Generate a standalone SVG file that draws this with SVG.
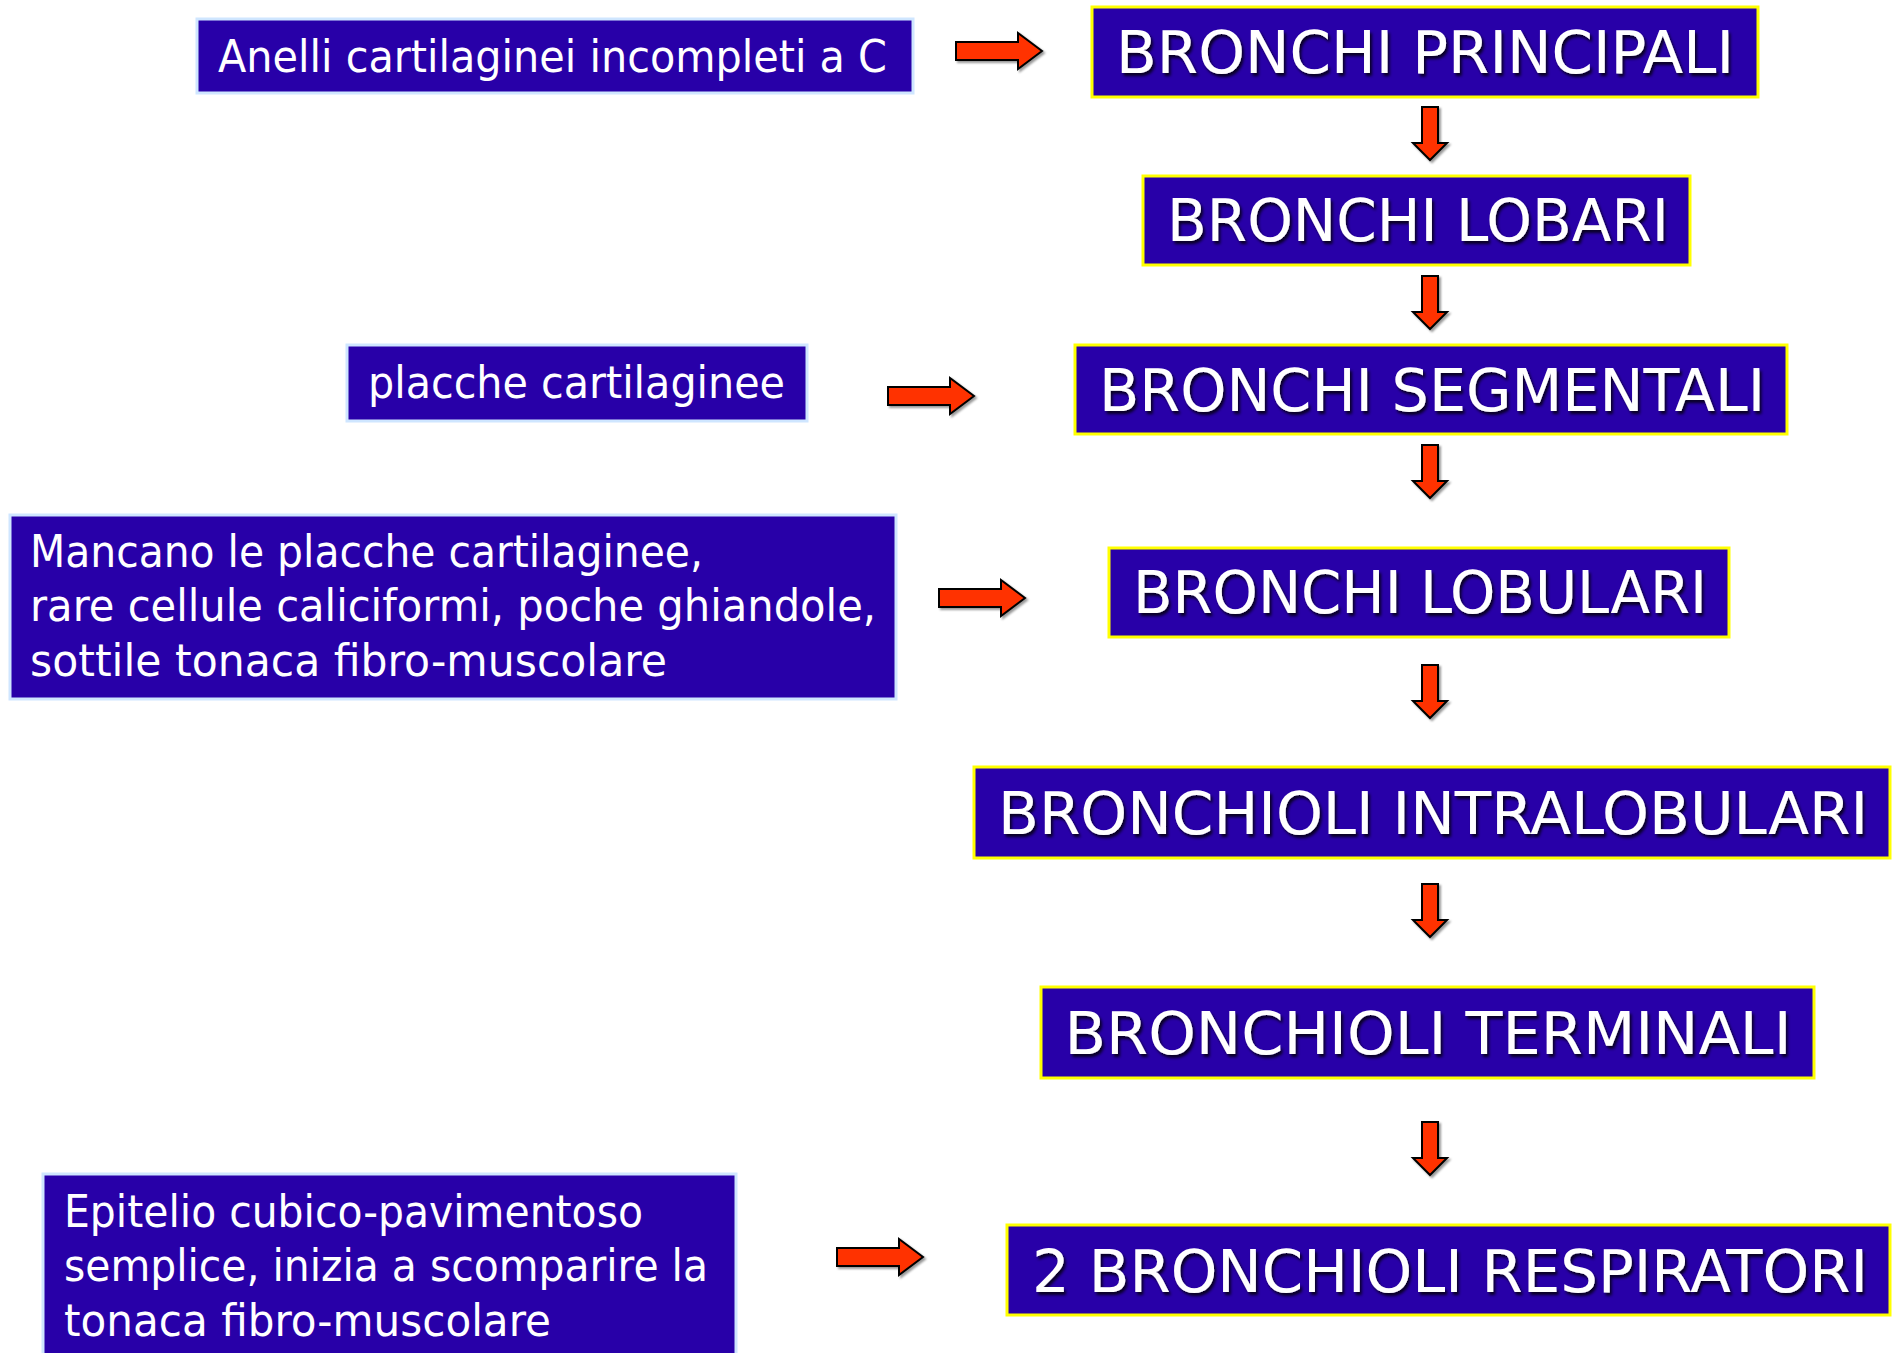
<svg xmlns="http://www.w3.org/2000/svg" width="1892" height="1353" viewBox="0 0 1892 1353">
<style>
.bx{fill:#2800A8;}
.ry{stroke:#FFFF00;stroke-width:3;}
.lb{stroke:#CFE6FF;stroke-width:3;}
.t{font-family:"Comic Sans MS","DejaVu Sans",sans-serif;fill:#FFFFFF;}
.big{font-size:58px;text-anchor:middle;filter:url(#sh);}
.sm{font-size:44px;}
.arr{fill:#FF3300;stroke:#000;stroke-width:2;stroke-linejoin:miter;filter:url(#ash);}
</style>
<defs>
<filter id="sh" x="-5%" y="-20%" width="110%" height="150%">
<feDropShadow dx="2" dy="3" stdDeviation="1.5" flood-color="#000" flood-opacity="0.8"/>
</filter>
<filter id="ash" x="-20%" y="-20%" width="150%" height="150%">
<feDropShadow dx="2" dy="2" stdDeviation="1" flood-color="#000" flood-opacity="0.4"/>
</filter>
<path id="down" d="M-8,0 H8 V36 H17 L0,53 L-17,36 H-8 Z"/>
<path id="right" d="M0,-9 H62 V-18 L86,0 L62,18 V9 H0 Z"/>
</defs>
<rect width="1892" height="1353" fill="#FFFFFF"/>

<g id="connectors">
<use href="#right" class="arr" x="956" y="51"/>
<use href="#right" class="arr" x="888" y="396"/>
<use href="#right" class="arr" x="939" y="598"/>
<use href="#right" class="arr" x="837" y="1257"/>
<use href="#down" class="arr" x="1430" y="107"/>
<use href="#down" class="arr" x="1430" y="276"/>
<use href="#down" class="arr" x="1430" y="445"/>
<use href="#down" class="arr" x="1430" y="665"/>
<use href="#down" class="arr" x="1430" y="884"/>
<use href="#down" class="arr" x="1430" y="1122"/>
</g>

<g id="note-anelli">
<rect class="bx lb" x="197" y="19" width="716" height="74"/>
<text class="t sm" x="218" y="72" textLength="669" lengthAdjust="spacingAndGlyphs">Anelli cartilaginei incompleti a C</text>
</g>

<g id="note-placche">
<rect class="bx lb" x="347" y="345" width="460" height="76"/>
<text class="t sm" x="368" y="398" textLength="417" lengthAdjust="spacingAndGlyphs">placche cartilaginee</text>
</g>

<g id="note-mancano">
<rect class="bx lb" x="10" y="515" width="886" height="184"/>
<text class="t sm" x="30" y="567" textLength="673" lengthAdjust="spacingAndGlyphs">Mancano le placche cartilaginee,</text>
<text class="t sm" x="30" y="621" textLength="846" lengthAdjust="spacingAndGlyphs">rare cellule caliciformi, poche ghiandole,</text>
<text class="t sm" x="30" y="676" textLength="637" lengthAdjust="spacingAndGlyphs">sottile tonaca fibro-muscolare</text>
</g>

<g id="note-epitelio">
<rect class="bx lb" x="43" y="1174" width="693" height="190"/>
<text class="t sm" x="64" y="1227" textLength="579" lengthAdjust="spacingAndGlyphs">Epitelio cubico-pavimentoso</text>
<text class="t sm" x="64" y="1281" textLength="644" lengthAdjust="spacingAndGlyphs">semplice, inizia a scomparire la</text>
<text class="t sm" x="64" y="1336" textLength="487" lengthAdjust="spacingAndGlyphs">tonaca fibro-muscolare</text>
</g>

<g id="bronchi-principali">
<rect class="bx ry" x="1092" y="7" width="666" height="90"/>
<text class="t big" x="1425" y="73" textLength="618" lengthAdjust="spacingAndGlyphs">BRONCHI PRINCIPALI</text>
</g>

<g id="bronchi-lobari">
<rect class="bx ry" x="1143" y="176" width="547" height="89"/>
<text class="t big" x="1418" y="241" textLength="502" lengthAdjust="spacingAndGlyphs">BRONCHI LOBARI</text>
</g>

<g id="bronchi-segmentali">
<rect class="bx ry" x="1075" y="345" width="712" height="89"/>
<text class="t big" x="1432" y="411" textLength="666" lengthAdjust="spacingAndGlyphs">BRONCHI SEGMENTALI</text>
</g>

<g id="bronchi-lobulari">
<rect class="bx ry" x="1109" y="548" width="620" height="89"/>
<text class="t big" x="1420" y="613" textLength="574" lengthAdjust="spacingAndGlyphs">BRONCHI LOBULARI</text>
</g>

<g id="bronchioli-intralobulari">
<rect class="bx ry" x="974" y="767" width="916" height="91"/>
<text class="t big" x="1433" y="834" textLength="870" lengthAdjust="spacingAndGlyphs">BRONCHIOLI INTRALOBULARI</text>
</g>

<g id="bronchioli-terminali">
<rect class="bx ry" x="1041" y="987" width="773" height="91"/>
<text class="t big" x="1428" y="1054" textLength="727" lengthAdjust="spacingAndGlyphs">BRONCHIOLI TERMINALI</text>
</g>

<g id="bronchioli-respiratori">
<rect class="bx ry" x="1007" y="1225" width="883" height="90"/>
<text class="t big" x="1450" y="1292" textLength="836" lengthAdjust="spacingAndGlyphs">2 BRONCHIOLI RESPIRATORI</text>
</g>
</svg>
